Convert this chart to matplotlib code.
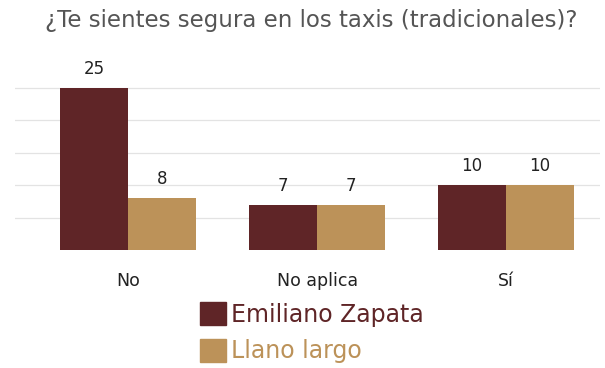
import matplotlib.pyplot as plt
import numpy as np
from matplotlib.patches import Patch

categories = ['No', 'No aplica', 'Sí']
series_names = ['Emiliano Zapata', 'Llano largo']
emiliano = [25, 7, 10]
llano = [8, 7, 10]
colors = ['#5f2527', '#bc9259']

plt.rcParams['font.family'] = ['DejaVu Sans']

fig = plt.figure(figsize=(6.05, 3.68), dpi=100)
ax = fig.add_axes([0.025, 0.32, 0.967, 0.53])

x = np.arange(len(categories))
w = 0.36
for vals, off, c in [(emiliano, -w / 2, colors[0]), (llano, w / 2, colors[1])]:
    bars = ax.bar(x + off, vals, w, color=c, zorder=3)
    for b, v in zip(bars, vals):
        ax.text(b.get_x() + b.get_width() / 2, v + 1.5, str(v),
                ha='center', va='bottom', fontsize=12, color='#222222')

ax.set_xlim(-0.6, 2.5)
ax.set_ylim(0, 30)
ax.set_yticks([5, 10, 15, 20, 25])
ax.yaxis.grid(True, color='#e3e3e3', linewidth=0.9, zorder=0)
ax.tick_params(left=False, labelleft=False, bottom=False)
ax.set_xticks(x)
ax.set_xticklabels(categories, fontsize=12.5, color='#222222')
ax.tick_params(axis='x', pad=12)
for s in ax.spines.values():
    s.set_visible(False)

fig.text(0.515, 0.945, '¿Te sientes segura en los taxis (tradicionales)?',
         ha='center', va='center', fontsize=16.5, color='#555555')

handles = [Patch(color=c) for c in colors]
leg = fig.legend(handles, series_names, loc='upper left', bbox_to_anchor=(0.315, 0.205),
                 frameon=False, fontsize=17, handlelength=1.1, handleheight=1.15,
                 handletextpad=0.2, labelspacing=0.5, borderaxespad=0)
for t, c in zip(leg.get_texts(), colors):
    t.set_color(c)

fig.savefig('out.png', dpi=100)
